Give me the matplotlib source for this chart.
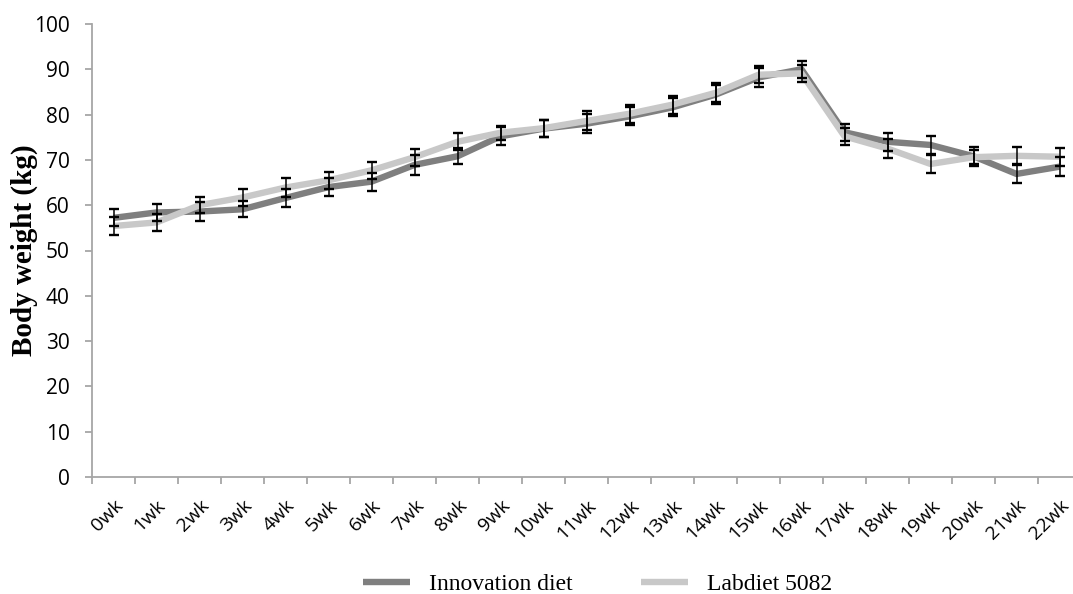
import numpy as np
import matplotlib
matplotlib.use("Agg")
import matplotlib.pyplot as plt

weeks = [f"{i}wk" for i in range(23)]

innovation = [57.2, 58.4, 58.6, 59.1, 61.6, 64.0, 65.2, 68.9, 70.8, 75.2, 76.9, 78.0,
              79.6, 81.6, 84.4, 88.2, 90.0, 76.1, 74.0, 73.3, 70.8, 66.9, 68.5]
innovation_err = [1.9, 1.9, 2.1, 1.8, 1.9, 2.0, 2.0, 2.2, 1.8, 2.0, 1.9, 2.1,
                  2.0, 2.0, 2.1, 2.0, 1.9, 1.9, 2.0, 2.0, 2.1, 2.1, 2.1]

labdiet = [55.4, 56.2, 60.0, 61.7, 63.9, 65.5, 67.7, 70.6, 74.0, 76.0, 77.0, 78.6,
           80.2, 82.2, 84.8, 88.8, 89.1, 75.2, 72.5, 69.1, 70.6, 70.9, 70.7]
labdiet_err = [2.0, 1.9, 1.7, 1.8, 2.0, 1.9, 1.9, 1.9, 1.9, 1.5, 1.9, 2.1,
               2.0, 2.0, 2.1, 1.9, 1.8, 1.9, 2.1, 2.0, 1.6, 2.0, 2.0]

dark = "#7f7f7f"
light = "#c8c8c8"
axis_col = "#a6a6a6"

fig = plt.figure(figsize=(10.73, 5.94), dpi=100)
ax = fig.add_axes([92 / 1073, 117 / 594, 989 / 1073, 453 / 594])

x = np.arange(len(weeks))
l1, = ax.plot(x, innovation, color=dark, lw=4.6, solid_capstyle="butt", zorder=2,
              label="Innovation diet")
l2, = ax.plot(x, labdiet, color=light, lw=4.6, solid_capstyle="butt", zorder=3,
              label="Labdiet 5082")
ax.errorbar(x, innovation, yerr=innovation_err, fmt="none", ecolor="black",
            elinewidth=1.1, capsize=3.3, capthick=1.7, zorder=4)
ax.errorbar(x, labdiet, yerr=labdiet_err, fmt="none", ecolor="black",
            elinewidth=1.1, capsize=3.3, capthick=1.7, zorder=4)

ax.set_xlim(-0.5, len(weeks) - 0.5)
ax.set_ylim(0, 100)
ax.set_yticks(range(0, 101, 10))

# ticks between categories, labels at category centres
ax.set_xticks(np.arange(-0.5, len(weeks), 1.0))
ax.set_xticklabels([])
ax.set_xticks(x, minor=True)
ax.set_xticklabels(weeks, minor=True, rotation=45, ha="right", rotation_mode="anchor",
                   fontsize=14, family="Open Sans")
ax.tick_params(axis="x", which="minor", length=0, pad=14)
ax.tick_params(axis="x", which="major", length=5, width=1.3, color=axis_col)
ax.tick_params(axis="y", length=5, width=1.3, color=axis_col, labelsize=15, pad=11)
for lab in ax.get_yticklabels():
    lab.set_family("Open Sans")

for s in ["top", "right"]:
    ax.spines[s].set_visible(False)
for s in ["left", "bottom"]:
    ax.spines[s].set_color(axis_col)
    ax.spines[s].set_linewidth(1.3)

ax.set_ylabel("Body weight (kg)", family="Liberation Serif", fontweight="bold",
              fontsize=21)
ax.yaxis.set_label_coords((38 - 92) / 989, 0.5)

fig.legend(handles=[l1, l2], loc="center left", bbox_to_anchor=(363 / 1073, 1 - 584 / 594),
           ncol=2, frameon=False, prop={"family": "Liberation Serif", "size": 17},
           borderpad=0, borderaxespad=0,
           handlelength=2.0, handletextpad=0.8, columnspacing=2.9)

fig.savefig("out.png", dpi=100)
